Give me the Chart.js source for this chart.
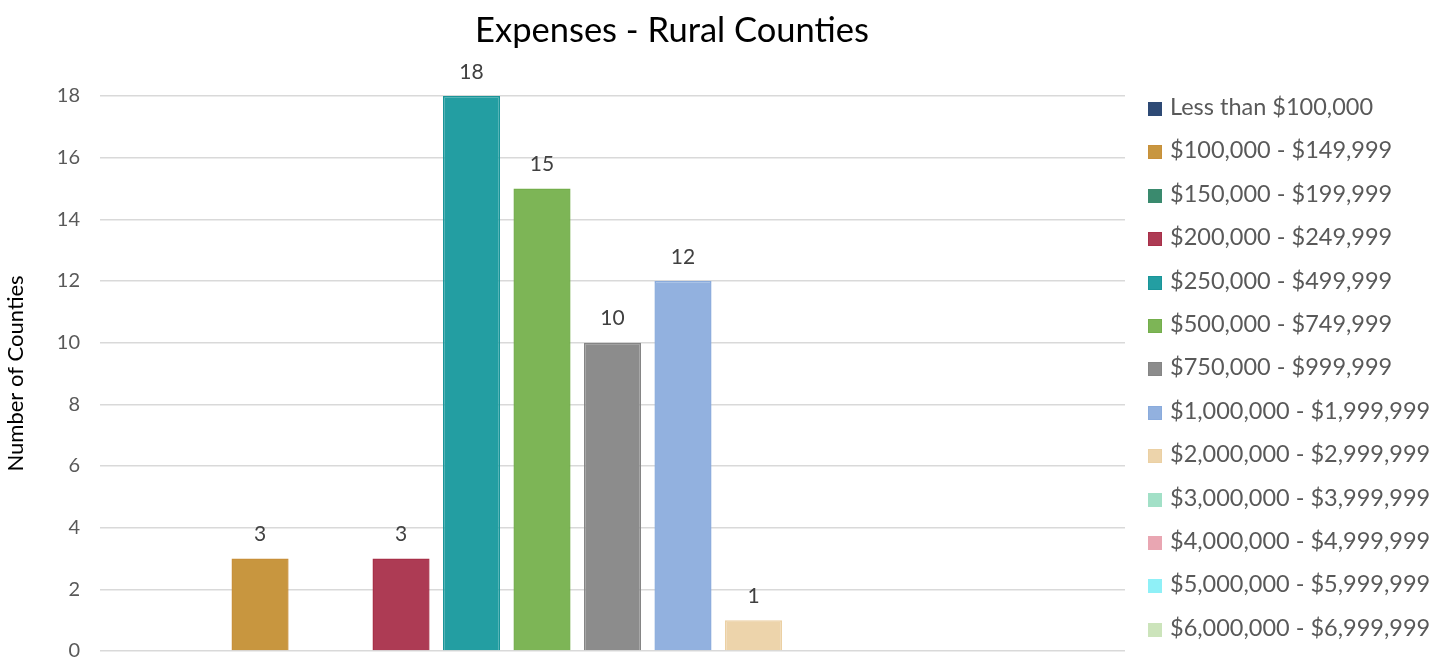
<!DOCTYPE html>
<html>
<head>
<meta charset="utf-8">
<title>Expenses - Rural Counties</title>
<script src="https://cdn.jsdelivr.net/npm/chart.js@4/dist/chart.umd.min.js"></script>
<style>
  body { margin: 0; background: #fff; }
  #wrap { position: relative; width: 1448px; height: 658px; overflow: hidden; }
  #chart { display: block; }
  #legend { position: absolute; left: 1148px; top: 85px; font-family: Lato, sans-serif; font-size: 23.5px; color: #595959; }
  #legend div { height: 43.4px; line-height: 43.4px; white-space: nowrap; }
  #legend span { display: inline-block; width: 12px; height: 12px; margin-right: 8px; vertical-align: -1px; border: 1px solid; }
</style>
</head>
<body>
<div id="wrap">
  <canvas id="chart" width="1448" height="658"></canvas>
  <div id="legend"></div>
</div>
<script>
const categories = [
  'Less than $100,000', '$100,000 - $149,999', '$150,000 - $199,999', '$200,000 - $249,999',
  '$250,000 - $499,999', '$500,000 - $749,999', '$750,000 - $999,999', '$1,000,000 - $1,999,999',
  '$2,000,000 - $2,999,999', '$3,000,000 - $3,999,999', '$4,000,000 - $4,999,999',
  '$5,000,000 - $5,999,999', '$6,000,000 - $6,999,999'
];
const counties = [0, 3, 0, 3, 18, 15, 10, 12, 1, 0, 0, 0, 0];
const yTicks = [0, 2, 4, 6, 8, 10, 12, 14, 16, 18];

const fills = ['#2E4A75', '#C8963F', '#3A8A6E', '#AD3B54', '#239EA2', '#7DB556', '#8C8C8C',
  '#92B1DF', '#EDD4AB', '#A2E0C7', '#E9A6B2', '#8FF0F7', '#CCE4BB'];
const borders = ['#2E4A75', '#C8903A', '#3A8A6E', '#A83049', '#1A9599', '#74AE4C', '#858585',
  '#8AABDC', '#EBD0A3', '#A2E0C7', '#E9A6B2', '#8FF0F7', '#CCE4BB'];

const datasets = categories.map((name, i) => ({
  label: name,
  data: [counties[i]],
  backgroundColor: fills[i],
  borderColor: borders[i],
  borderWidth: 1.5,
  categoryPercentage: 0.894,
  barPercentage: 0.81
}));

// value labels above the non-zero bars
const barLabels = {
  id: 'barLabels',
  afterDatasetsDraw(chart) {
    const ctx = chart.ctx;
    ctx.save();
    ctx.font = '21px Lato, sans-serif';
    ctx.fillStyle = '#404040';
    ctx.textAlign = 'center';
    ctx.textBaseline = 'middle';
    chart.data.datasets.forEach((ds, i) => {
      chart.getDatasetMeta(i).data.forEach((bar, j) => {
        const v = ds.data[j];
        if (v > 0) ctx.fillText(String(v), bar.x, bar.y - 24);
      });
    });
    ctx.restore();
  }
};

const titlePlugin = {
  id: 'topTitle',
  afterDraw(chart) {
    const ctx = chart.ctx;
    ctx.save();
    ctx.font = '34.5px Lato, sans-serif';
    ctx.fillStyle = '#000';
    ctx.textAlign = 'center';
    ctx.textBaseline = 'middle';
    ctx.fillText('Expenses - Rural Counties', 672, 31);
    ctx.restore();
  }
};

new Chart(document.getElementById('chart'), {
  type: 'bar',
  data: { labels: [''], datasets: datasets },
  options: {
    responsive: false,
    animation: false,
    layout: { padding: { top: 96, right: 323, bottom: 7, left: 0 } },
    plugins: { legend: { display: false }, title: { display: false }, tooltip: { enabled: false } },
    scales: {
      x: { display: false },
      y: {
        min: 0,
        max: 18,
        afterBuildTicks(scale) { scale.ticks = yTicks.map(v => ({ value: v })); },
        afterFit(scale) { scale.width = 100; },
        ticks: { font: { family: 'Lato, sans-serif', size: 20, lineHeight: 0.7 }, color: '#595959', padding: 0 },
        grid: { color: '#D9D9D9', lineWidth: 1.5, drawTicks: true, tickLength: 20, tickColor: 'rgba(0,0,0,0)' },
        border: { display: false },
        title: { display: true, text: 'Number of Counties', color: '#000', font: { family: 'Lato, sans-serif', size: 22, lineHeight: 1 }, padding: 5 }
      }
    }
  },
  plugins: [barLabels, titlePlugin]
});

const legend = document.getElementById('legend');
categories.forEach((name, i) => {
  const row = document.createElement('div');
  const box = document.createElement('span');
  box.style.background = fills[i];
  box.style.borderColor = borders[i];
  row.appendChild(box);
  row.appendChild(document.createTextNode(name));
  legend.appendChild(row);
});
</script>
</body>
</html>
